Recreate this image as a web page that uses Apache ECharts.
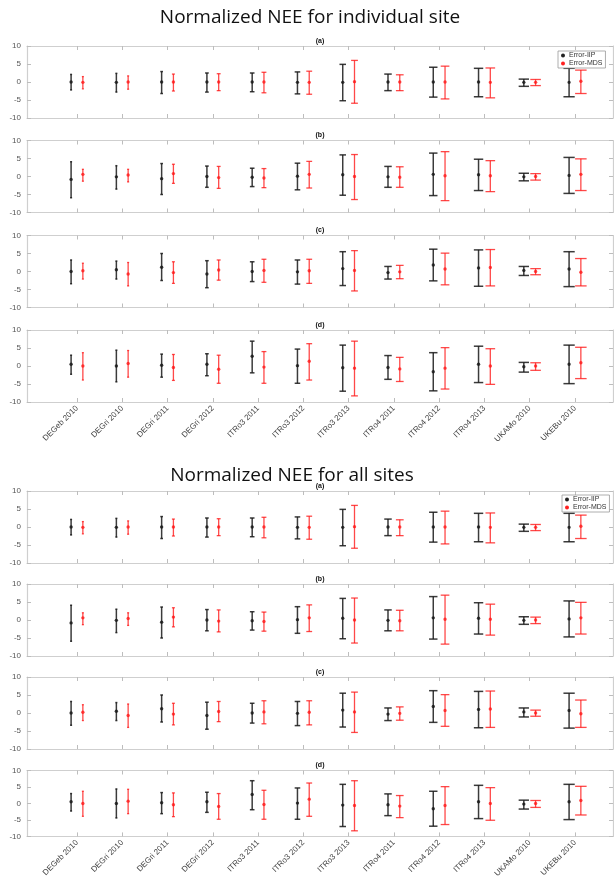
<!DOCTYPE html>
<html>
<head>
<meta charset="utf-8">
<script src="https://cdn.jsdelivr.net/npm/echarts@6/dist/echarts.min.js"></script>
<style>html,body{margin:0;padding:0;background:#fff}#c{width:614px;height:880px}</style>
</head>
<body>
<div id="c"></div>
<script>
const sites = ['DEGeb 2010','DEGri 2010','DEGri 2011','DEGri 2012','ITRo3 2011','ITRo3 2012','ITRo3 2013','ITRo4 2011','ITRo4 2012','ITRo4 2013','UKAMo 2010','UKEBu 2010'];
const yTicks = [-10, -5, 0, 5, 10];
const panelLetters = ['(a)', '(b)', '(c)', '(d)'];
const groupTitles = ['Normalized NEE for individual site', 'Normalized NEE for all sites'];

// Panel (a)
const iipMeanA = [0, -0.1, 0, 0, 0, -0.1, -0.1, 0, 0, 0, -0.1, -0.1];
const iipLowA  = [-2.2, -2.8, -3.2, -2.8, -2.7, -3.3, -5.2, -2.4, -4.2, -4.1, -1.2, -4.1];
const iipHighA = [2.1, 2.4, 2.9, 2.5, 2.5, 2.8, 4.9, 2.2, 4.1, 3.8, 0.8, 3.8];
const mdsMeanA = [-0.1, 0, 0, 0, 0, -0.1, 0.1, 0, 0, -0.1, -0.1, 0.2];
const mdsLowA  = [-1.9, -2.0, -2.5, -2.4, -3.0, -3.4, -5.9, -2.4, -4.7, -4.4, -1.0, -3.2];
const mdsHighA = [1.5, 1.7, 2.2, 2.3, 2.7, 3.0, 6.0, 2.0, 4.4, 3.9, 0.7, 3.3];
// Panel (b)
const iipMeanB = [-0.8, -0.1, -0.6, 0, -0.2, 0.1, 0.5, -0.1, 0.6, 0.5, -0.1, 0.3];
const iipLowB  = [-5.9, -3.5, -5.0, -3.0, -2.8, -3.7, -5.2, -3.0, -5.3, -3.9, -1.2, -4.7];
const iipHighB = [4.1, 3.0, 3.6, 2.9, 2.3, 3.7, 6.0, 2.8, 6.5, 4.8, 0.9, 5.3];
const mdsMeanB = [0.6, 0.4, 0.8, -0.3, -0.4, 0.6, 0, -0.2, 0.2, 0.2, 0, 0.6];
const mdsLowB  = [-1.3, -1.5, -1.9, -3.3, -3.1, -3.2, -6.4, -3.0, -6.7, -4.2, -1.0, -3.9];
const mdsHighB = [2.0, 2.0, 3.4, 2.8, 2.2, 4.2, 6.1, 2.7, 6.9, 4.4, 0.8, 4.9];
// Panel (c)
const iipMeanC = [0, 0.5, 1.2, -0.7, 0, -0.1, 0.8, -0.3, 1.8, 1.0, 0.3, 0.7];
const iipLowC  = [-3.4, -2.1, -2.5, -4.5, -2.8, -3.5, -3.9, -2.1, -2.6, -4.1, -1.1, -4.2];
const iipHighC = [3.2, 2.9, 5.0, 3.0, 2.7, 3.2, 5.5, 1.4, 6.2, 6.0, 1.4, 5.5];
const mdsMeanC = [0.2, -0.7, -0.3, 0.4, 0.3, 0.2, 0.3, -0.1, 0.7, 1.1, 0, -0.2];
const mdsLowC  = [-2.1, -4.0, -3.3, -2.4, -3.0, -3.3, -5.4, -2.0, -3.7, -4.0, -0.9, -4.0];
const mdsHighC = [2.3, 2.5, 2.7, 3.2, 3.4, 3.4, 5.8, 1.7, 5.1, 6.1, 0.8, 3.6];
// Panel (d)
const iipMeanD = [0.5, 0, 0.2, 0.5, 2.7, 0.1, -0.5, -0.4, -1.6, 0.5, -0.2, 0.5];
const iipLowD  = [-2.3, -4.4, -3.1, -2.7, -1.9, -4.8, -7.0, -3.7, -6.9, -4.6, -1.7, -4.9];
const iipHighD = [3.0, 4.4, 3.3, 3.4, 6.9, 4.7, 5.8, 2.9, 3.7, 5.5, 1.0, 5.8];
const mdsMeanD = [0, 0.7, -0.4, -0.9, -0.3, 1.3, -0.6, -0.8, -0.6, 0, 0, 0.9];
const mdsLowD  = [-3.9, -3.1, -4.0, -4.8, -4.8, -3.9, -8.3, -4.3, -6.4, -5.1, -1.2, -3.5];
const mdsHighD = [3.7, 4.3, 3.2, 3.0, 4.0, 6.2, 6.9, 2.4, 5.1, 4.8, 0.9, 5.2];

const panels = [
  {iip: [iipMeanA, iipLowA, iipHighA], mds: [mdsMeanA, mdsLowA, mdsHighA]},
  {iip: [iipMeanB, iipLowB, iipHighB], mds: [mdsMeanB, mdsLowB, mdsHighB]},
  {iip: [iipMeanC, iipLowC, iipHighC], mds: [mdsMeanC, mdsLowC, mdsHighC]},
  {iip: [iipMeanD, iipLowD, iipHighD], mds: [mdsMeanD, mdsLowD, mdsHighD]}
];

// layout
const gridTops = [46, 140.5, 235.5, 330, 491, 584, 677, 770.5];
const gridH = 72;
const gridLeft = 27, gridRight = 1;
const xMin = -0.104, xMax = 12.84;
const offIIP = -0.13, offMDS = 0.13;
const IIP_COLOR = 'rgba(25,25,25,0.85)';
const MDS_COLOR = 'rgba(255,20,20,0.78)';
const FONT = '"Liberation Sans", Arial, sans-serif';
const tickVals = sites.map((s, i) => i + 1);

function errItem(color, lw) {
  return function (params, api) {
    const x = api.value(0), m = api.value(1), lo = api.value(2), hi = api.value(3);
    const pLo = api.coord([x, lo]), pHi = api.coord([x, hi]), pM = api.coord([x, m]);
    const hw = x * 0.0105;
    const pa = api.coord([x - hw, lo]), pb = api.coord([x + hw, lo]);
    const cap = Math.max(1, (pb[0] - pa[0]) / 2);
    const st = {stroke: color, lineWidth: lw};
    return {type: 'group', children: [
      {type: 'line', shape: {x1: pLo[0], y1: pLo[1], x2: pHi[0], y2: pHi[1]}, style: st},
      {type: 'line', shape: {x1: pLo[0] - cap, y1: pLo[1], x2: pLo[0] + cap, y2: pLo[1]}, style: st},
      {type: 'line', shape: {x1: pHi[0] - cap, y1: pHi[1], x2: pHi[0] + cap, y2: pHi[1]}, style: st},
      {type: 'circle', shape: {cx: pM[0], cy: pM[1], r: 1.7}, style: {fill: color}}
    ]};
  };
}

const grid = [], xAxis = [], yAxis = [], series = [], graphic = [];
const axisLine = {show: true, onZero: false, lineStyle: {color: '#cfcfcf', width: 1.2}};
const axisTick = {show: true, inside: true, length: 4, lineStyle: {color: '#bdbdbd', width: 1}};

gridTops.forEach((top, g) => {
  const p = g % 4;
  const isLast = p === 3;
  grid.push({left: gridLeft, right: gridRight, top: top, height: gridH, containLabel: false});
  xAxis.push({
    gridIndex: g, type: 'value', min: xMin, max: xMax, position: 'bottom',
    axisLine: axisLine,
    axisTick: Object.assign({}, axisTick, {customValues: tickVals}),
    axisLabel: {show: isLast, customValues: tickVals, rotate: 45, fontSize: 8, color: '#444', fontFamily: FONT, margin: 5,
      formatter: v => sites[Math.round(v) - 1] || ''},
    splitLine: {show: false}
  });
  xAxis.push({
    gridIndex: g, type: 'value', min: xMin, max: xMax, position: 'top',
    axisLine: axisLine,
    axisTick: Object.assign({}, axisTick, {customValues: tickVals}),
    axisLabel: {show: false}, splitLine: {show: false}
  });
  yAxis.push({
    gridIndex: g, type: 'value', min: yTicks[0], max: yTicks[yTicks.length - 1], interval: 5, position: 'left',
    axisLine: axisLine, axisTick: axisTick,
    axisLabel: {fontSize: 8, color: '#555', fontFamily: FONT, margin: 6},
    splitLine: {show: false}
  });
  yAxis.push({
    gridIndex: g, type: 'value', min: yTicks[0], max: yTicks[yTicks.length - 1], interval: 5, position: 'right',
    axisLine: axisLine, axisTick: axisTick, axisLabel: {show: false}, splitLine: {show: false}
  });
  const pd = panels[p];
  series.push({
    name: 'Error-IIP', type: 'custom', xAxisIndex: 2 * g, yAxisIndex: 2 * g,
    itemStyle: {color: '#222'},
    encode: {x: 0, y: [1, 2, 3]},
    renderItem: errItem(IIP_COLOR, 1.5),
    data: sites.map((s, i) => [i + 1 + offIIP, pd.iip[0][i], pd.iip[1][i], pd.iip[2][i]])
  });
  series.push({
    name: 'Error-MDS', type: 'custom', xAxisIndex: 2 * g, yAxisIndex: 2 * g,
    itemStyle: {color: '#ff2020'},
    encode: {x: 0, y: [1, 2, 3]},
    renderItem: errItem(MDS_COLOR, 1.3),
    data: sites.map((s, i) => [i + 1 + offMDS, pd.mds[0][i], pd.mds[1][i], pd.mds[2][i]])
  });
  graphic.push({type: 'text', x: 320, y: top - 5, style: {text: panelLetters[p], font: 'bold 7px ' + FONT, fill: '#111', textAlign: 'center', textVerticalAlign: 'middle'}});
});

graphic.push({type: 'text', x: 310, y: 18, style: {text: groupTitles[0], font: '19px "Open Sans", "Noto Sans", sans-serif', fill: '#111', textAlign: 'center', textVerticalAlign: 'middle'}});
graphic.push({type: 'text', x: 292, y: 476, style: {text: groupTitles[1], font: '19px "Open Sans", "Noto Sans", sans-serif', fill: '#111', textAlign: 'center', textVerticalAlign: 'middle'}});

const legendBase = {
  orient: 'vertical', selectedMode: false, itemWidth: 4, itemHeight: 4, itemGap: 1,
  padding: [1, 3, 1, 3], borderColor: '#999', borderWidth: 0.8, backgroundColor: '#fff',
  textStyle: {fontSize: 7, color: '#333', fontFamily: FONT, padding: [0, 0, 0, -1]},
  data: [{name: 'Error-IIP', icon: 'circle'}, {name: 'Error-MDS', icon: 'circle'}]
};
const legend = [
  Object.assign({}, legendBase, {left: 558, top: 51}),
  Object.assign({}, legendBase, {left: 562, top: 495})
];

const chart = echarts.init(document.getElementById('c'), null, {renderer: 'canvas'});
chart.setOption({animation: false, grid, xAxis, yAxis, series, graphic, legend});
</script>
</body>
</html>
